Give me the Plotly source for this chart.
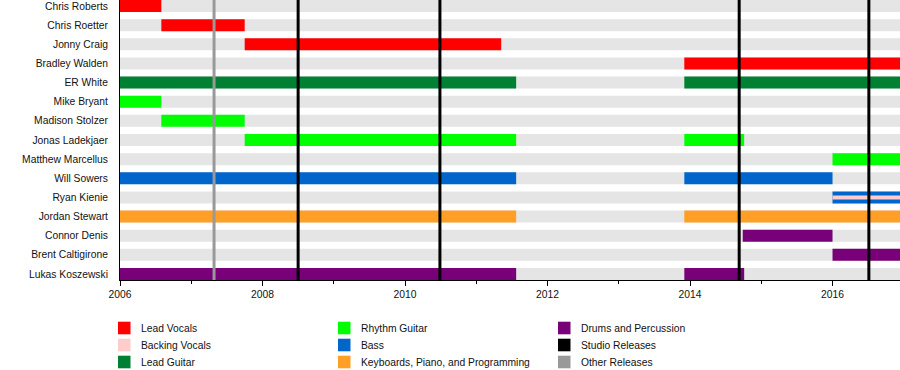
import plotly.graph_objects as go

# ---------------- data ----------------
members = ["Chris Roberts", "Chris Roetter", "Jonny Craig", "Bradley Walden", "ER White",
           "Mike Bryant", "Madison Stolzer", "Jonas Ladekjaer", "Matthew Marcellus",
           "Will Sowers", "Ryan Kienie", "Jordan Stewart", "Connor Denis",
           "Brent Caltigirone", "Lukas Koszewski"]

timeline_start = 2006.0
timeline_end = 2017.0
view_end = 2016.947

role_names = ["Lead Vocals", "Backing Vocals", "Lead Guitar", "Rhythm Guitar", "Bass",
              "Keyboards, Piano, and Programming", "Drums and Percussion",
              "Studio Releases", "Other Releases"]
role_colors = ["#ff0000", "#ffcccc", "#008033", "#00ff00", "#0066cc",
               "#ff9f26", "#780078", "#000000", "#999999"]

stint_member = ["Chris Roberts", "Chris Roetter", "Jonny Craig", "Bradley Walden",
                "ER White", "ER White",
                "Mike Bryant", "Madison Stolzer", "Jonas Ladekjaer", "Jonas Ladekjaer",
                "Matthew Marcellus",
                "Will Sowers", "Will Sowers", "Ryan Kienie",
                "Ryan Kienie",
                "Jordan Stewart", "Jordan Stewart",
                "Connor Denis", "Brent Caltigirone", "Lukas Koszewski", "Lukas Koszewski"]
stint_role = ["Lead Vocals", "Lead Vocals", "Lead Vocals", "Lead Vocals",
              "Lead Guitar", "Lead Guitar",
              "Rhythm Guitar", "Rhythm Guitar", "Rhythm Guitar", "Rhythm Guitar",
              "Rhythm Guitar",
              "Bass", "Bass", "Bass",
              "Backing Vocals",
              "Keyboards, Piano, and Programming", "Keyboards, Piano, and Programming",
              "Drums and Percussion", "Drums and Percussion", "Drums and Percussion",
              "Drums and Percussion"]
stint_start = [2006.0, 2006.58, 2007.75, 2013.92,
               2006.0, 2013.92,
               2006.0, 2006.58, 2007.75, 2013.92,
               2016.0,
               2006.0, 2013.92, 2016.0,
               2016.0,
               2006.0, 2013.92,
               2014.74, 2016.0, 2006.0, 2013.92]
stint_end = [2006.58, 2007.75, 2011.35, 2017.0,
             2011.56, 2017.0,
             2006.58, 2007.75, 2011.56, 2014.76,
             2017.0,
             2011.56, 2016.0, 2017.0,
             2017.0,
             2011.56, 2017.0,
             2016.0, 2017.0, 2011.56, 2014.76]

studio_releases = [2008.5, 2010.49, 2014.69, 2016.51]
other_releases = [2007.32]

# ---------------- figure ----------------
BAR_W = 0.627
FONT = dict(family="Liberation Sans, Arial, sans-serif", size=10.3, color="#111111")

fig = go.Figure()

# background rows
fig.add_trace(go.Bar(
    y=members, x=[timeline_end - timeline_start] * len(members),
    base=[timeline_start] * len(members), orientation="h", width=BAR_W,
    marker=dict(color="#e5e5e5", line=dict(width=0)), showlegend=False, hoverinfo="skip"))

color_of = dict(zip(role_names, role_colors))
draw_order = ["Lead Vocals", "Lead Guitar", "Rhythm Guitar", "Bass",
              "Keyboards, Piano, and Programming", "Drums and Percussion", "Backing Vocals"]
for role in draw_order:
    idx = [i for i, r in enumerate(stint_role) if r == role]
    if not idx:
        continue
    w = BAR_W / 3 if role == "Backing Vocals" else BAR_W
    fig.add_trace(go.Bar(
        y=[stint_member[i] for i in idx],
        x=[stint_end[i] - stint_start[i] for i in idx],
        base=[stint_start[i] for i in idx],
        orientation="h", width=w, name=role,
        marker=dict(color=color_of[role], line=dict(width=0)),
        showlegend=False))

shapes = []
for xv in other_releases:
    shapes.append(dict(type="line", xref="x", yref="paper", x0=xv, x1=xv, y0=0, y1=1,
                       line=dict(color=color_of["Other Releases"], width=3), layer="above"))
for xv in studio_releases:
    shapes.append(dict(type="line", xref="x", yref="paper", x0=xv, x1=xv, y0=0, y1=1,
                       line=dict(color=color_of["Studio Releases"], width=3), layer="above"))

# manual legend (3 columns x 3 rows), positions in pixels converted to paper
PL, PW, PT, PH = 120, 780, 0, 280
def px(x):
    return (x - PL) / PW
def py(y):
    return (PT + PH - y) / PH

col_sq_x = [118, 338, 558]
col_tx_x = [138.5, 358.5, 578.5]
row_cy = [328, 345, 362]
annotations = []
for k, (name, col) in enumerate(zip(role_names, role_colors)):
    c, r = divmod(k, 3)
    x0 = col_sq_x[c]
    cy = row_cy[r]
    shapes.append(dict(type="rect", xref="paper", yref="paper",
                       x0=px(x0), x1=px(x0 + 12.5), y0=py(cy - 6.3), y1=py(cy + 6.3),
                       fillcolor=col, line=dict(width=0)))
    annotations.append(dict(xref="paper", yref="paper", x=px(col_tx_x[c]), y=py(cy),
                            xanchor="left", yanchor="middle", text=name, showarrow=False,
                            font=FONT))

fig.update_layout(
    width=900, height=370,
    margin=dict(l=PL, r=0, t=PT, b=370 - PH - PT),
    barmode="overlay",
    plot_bgcolor="white", paper_bgcolor="white",
    font=FONT,
    shapes=shapes, annotations=annotations,
    showlegend=False,
    xaxis=dict(range=[timeline_start, view_end], showgrid=False, zeroline=False,
               showline=True, linecolor="black", linewidth=1,
               ticks="outside", tickvals=list(range(2006, 2017, 2)), ticklen=5,
               tickcolor="black", tickwidth=1,
               minor=dict(ticks="outside", dtick=1, tick0=2006, ticklen=3,
                          tickcolor="black", showgrid=False),
               tickfont=FONT),
    yaxis=dict(categoryorder="array", categoryarray=members,
               range=[len(members) - 1 + BAR_W / 2, -BAR_W / 2],
               showgrid=False, zeroline=False, showline=True, linecolor="black",
               linewidth=1, ticks="", ticklabelstandoff=9, tickfont=FONT),
)

fig.write_html("out.html", config={"displayModeBar": False},
               post_script="document.body.style.margin='0';document.body.style.overflow='hidden';")
